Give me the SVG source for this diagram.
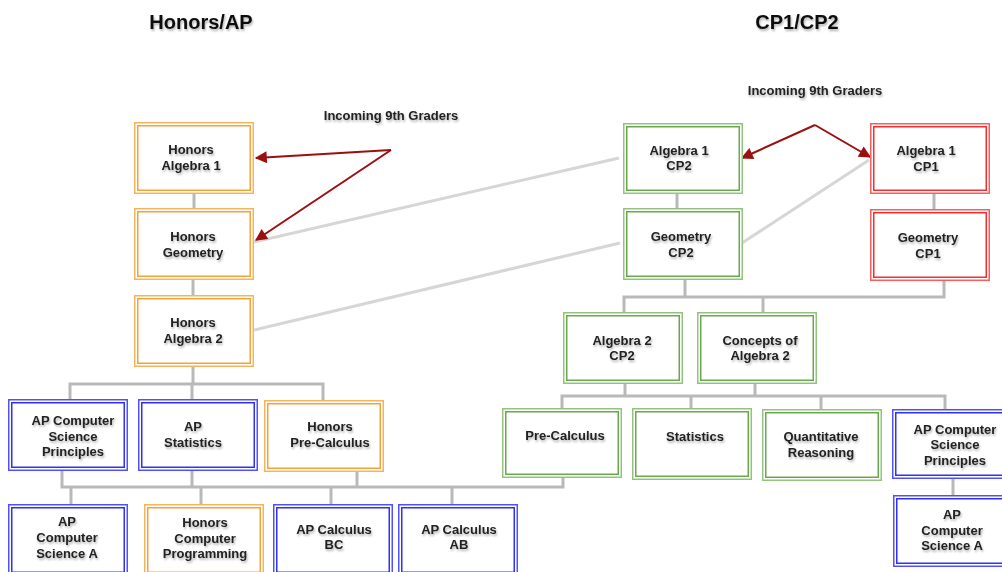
<svg xmlns="http://www.w3.org/2000/svg" width="1002" height="572" viewBox="0 0 1002 572">
<style>
text{font-family:"Liberation Sans",Arial,sans-serif;font-weight:bold;font-size:13px;fill:#222;text-anchor:middle;filter:url(#ts)}
.title{font-size:20px;fill:#111}
.out{fill:#fff;stroke-width:1.5}
.in{fill:none;stroke-width:1.5}
.or .out{stroke:#f6b45a}.or .in{stroke:#f0a53c}
.gr .out{stroke:#93c47d}.gr .in{stroke:#6aa84f}
.bl .out{stroke:#5050ff}.bl .in{stroke:#3030f0}
.rd .out{stroke:#ff5a5a}.rd .in{stroke:#f03030}
.bar{fill:none;stroke:#b9b9b9;stroke-width:3}
.diag{fill:none;stroke:#d6d6d6;stroke-width:3}
.arr{fill:none;stroke:#9b0f0f;stroke-width:2;marker-end:url(#ah)}
</style>
<defs>
<filter id="ts" x="-10%" y="-30%" width="130%" height="170%">
<feGaussianBlur in="SourceAlpha" stdDeviation="1"/>
<feOffset dx="1" dy="1.5" result="b"/>
<feComponentTransfer><feFuncA type="linear" slope="0.3"/></feComponentTransfer>
<feMerge><feMergeNode/><feMergeNode in="SourceGraphic"/></feMerge>
</filter>
<marker id="ah" viewBox="0 0 10 10" refX="9" refY="5" markerWidth="7" markerHeight="6" orient="auto" markerUnits="strokeWidth">
<path d="M0,0 L10,5 L0,10 z" fill="#9b0f0f"/>
</marker>
</defs>

<text class="title" x="201" y="29">Honors/AP</text>
<text class="title" x="797" y="29">CP1/CP2</text>
<text x="391" y="120">Incoming 9th Graders</text>
<text x="815" y="95">Incoming 9th Graders</text>

<g id="connectors">
<path class="diag" d="M254,242 L619,158"/>
<path class="diag" d="M254,330 L620,243"/>
<path class="diag" d="M742,243 L869,160"/>
<path class="bar" d="M194,194 V208 M193,280 V295 M193,367 V384 M70,399 V384 H323 V400 M192,384 V399"/>
<path class="bar" d="M62,471 V487 H563 V478 M192,471 V487 M357,472 V487 M71,487 V504 M201,487 V504 M331,487 V504 M452,487 V504"/>
<path class="bar" d="M677,194 V208 M934,194 V209 M685,280 V297 M944,281 V297 H624 V312 M763,297 V312"/>
<path class="bar" d="M625,384 V396 M755,384 V396 M562,408 V396 H945 V409 M691,396 V408 M821,396 V409"/>
<path class="bar" d="M953,479 V495"/>
<path class="arr" d="M391,150 L256,158"/>
<path class="arr" d="M391,150 L256,240"/>
<path class="arr" d="M815,125 L742,158"/>
<path class="arr" d="M815,125 L870,157"/>
</g>

<g id="honors-algebra-1" class="or"><rect class="out" x="134.75" y="122.75" width="118.5" height="70.5"/><rect class="in" x="137.75" y="125.75" width="112.5" height="64.5"/><text x="191" y="154">Honors</text><text x="191" y="170">Algebra 1</text></g>
<g id="honors-geometry" class="or"><rect class="out" x="134.75" y="208.75" width="118.5" height="70.5"/><rect class="in" x="137.75" y="211.75" width="112.5" height="64.5"/><text x="193" y="241">Honors</text><text x="193" y="257">Geometry</text></g>
<g id="honors-algebra-2" class="or"><rect class="out" x="134.75" y="295.75" width="118.5" height="70.5"/><rect class="in" x="137.75" y="298.75" width="112.5" height="64.5"/><text x="193" y="327">Honors</text><text x="193" y="343">Algebra 2</text></g>

<g id="ap-csp-left" class="bl"><rect class="out" x="8.75" y="399.75" width="118.5" height="70.5"/><rect class="in" x="11.75" y="402.75" width="112.5" height="64.5"/><text x="73" y="425">AP Computer</text><text x="73" y="441">Science</text><text x="73" y="456">Principles</text></g>
<g id="ap-statistics" class="bl"><rect class="out" x="138.75" y="399.75" width="118.5" height="70.5"/><rect class="in" x="141.75" y="402.75" width="112.5" height="64.5"/><text x="193" y="431">AP</text><text x="193" y="447">Statistics</text></g>
<g id="honors-precalc" class="or"><rect class="out" x="264.75" y="400.75" width="118.5" height="70.5"/><rect class="in" x="267.75" y="403.75" width="112.5" height="64.5"/><text x="330" y="431">Honors</text><text x="330" y="447">Pre-Calculus</text></g>

<g id="ap-csa-left" class="bl"><rect class="out" x="8.75" y="504.75" width="118.5" height="70.5"/><rect class="in" x="11.75" y="507.75" width="112.5" height="64.5"/><text x="67" y="526">AP</text><text x="67" y="542">Computer</text><text x="67" y="558">Science A</text></g>
<g id="honors-comp-prog" class="or"><rect class="out" x="144.75" y="504.75" width="118.5" height="70.5"/><rect class="in" x="147.75" y="507.75" width="112.5" height="64.5"/><text x="205" y="527">Honors</text><text x="205" y="543">Computer</text><text x="205" y="558">Programming</text></g>
<g id="ap-calc-bc" class="bl"><rect class="out" x="273.75" y="504.75" width="118.5" height="70.5"/><rect class="in" x="276.75" y="507.75" width="112.5" height="64.5"/><text x="334" y="534">AP Calculus</text><text x="334" y="549">BC</text></g>
<g id="ap-calc-ab" class="bl"><rect class="out" x="398.75" y="504.75" width="118.5" height="70.5"/><rect class="in" x="401.75" y="507.75" width="112.5" height="64.5"/><text x="459" y="534">AP Calculus</text><text x="459" y="549">AB</text></g>

<g id="algebra-1-cp2" class="gr"><rect class="out" x="623.75" y="123.75" width="118.5" height="69.5"/><rect class="in" x="626.75" y="126.75" width="112.5" height="63.5"/><text x="679" y="155">Algebra 1</text><text x="679" y="170">CP2</text></g>
<g id="algebra-1-cp1" class="rd"><rect class="out" x="870.75" y="123.75" width="118.5" height="69.5"/><rect class="in" x="873.75" y="126.75" width="112.5" height="63.5"/><text x="926" y="155">Algebra 1</text><text x="926" y="171">CP1</text></g>
<g id="geometry-cp2" class="gr"><rect class="out" x="623.75" y="208.75" width="118.5" height="70.5"/><rect class="in" x="626.75" y="211.75" width="112.5" height="64.5"/><text x="681" y="241">Geometry</text><text x="681" y="257">CP2</text></g>
<g id="geometry-cp1" class="rd"><rect class="out" x="870.75" y="209.75" width="118.5" height="70.5"/><rect class="in" x="873.75" y="212.75" width="112.5" height="64.5"/><text x="928" y="242">Geometry</text><text x="928" y="258">CP1</text></g>

<g id="algebra-2-cp2" class="gr"><rect class="out" x="563.75" y="312.75" width="118.5" height="70.5"/><rect class="in" x="566.75" y="315.75" width="112.5" height="64.5"/><text x="622" y="345">Algebra 2</text><text x="622" y="360">CP2</text></g>
<g id="concepts-algebra-2" class="gr"><rect class="out" x="697.75" y="312.75" width="118.5" height="70.5"/><rect class="in" x="700.75" y="315.75" width="112.5" height="64.5"/><text x="760" y="345">Concepts of</text><text x="760" y="360">Algebra 2</text></g>

<g id="pre-calculus" class="gr"><rect class="out" x="502.75" y="408.75" width="118.5" height="68.5"/><rect class="in" x="505.75" y="411.75" width="112.5" height="62.5"/><text x="565" y="440">Pre-Calculus</text></g>
<g id="statistics" class="gr"><rect class="out" x="632.75" y="408.75" width="118.5" height="70.5"/><rect class="in" x="635.75" y="411.75" width="112.5" height="64.5"/><text x="695" y="441">Statistics</text></g>
<g id="quantitative-reasoning" class="gr"><rect class="out" x="762.75" y="409.75" width="118.5" height="70.5"/><rect class="in" x="765.75" y="412.75" width="112.5" height="64.5"/><text x="821" y="441">Quantitative</text><text x="821" y="457">Reasoning</text></g>
<g id="ap-csp-right" class="bl"><rect class="out" x="892.75" y="409.75" width="118.5" height="68.5"/><rect class="in" x="895.75" y="412.75" width="112.5" height="62.5"/><text x="955" y="434">AP Computer</text><text x="955" y="449">Science</text><text x="955" y="465">Principles</text></g>
<g id="ap-csa-right" class="bl"><rect class="out" x="893.75" y="495.75" width="118.5" height="70.5"/><rect class="in" x="896.75" y="498.75" width="112.5" height="64.5"/><text x="952" y="519">AP</text><text x="952" y="535">Computer</text><text x="952" y="550">Science A</text></g>
</svg>
